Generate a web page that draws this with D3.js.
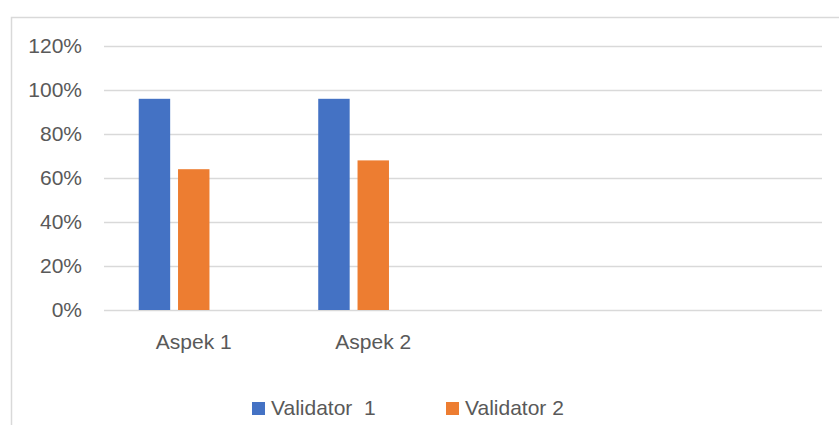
<!DOCTYPE html>
<html>
<head>
<meta charset="utf-8">
<script src="https://cdn.jsdelivr.net/npm/d3@7"></script>
<style>
  html, body { margin: 0; padding: 0; background: #fff; }
  svg { display: block; }
  text { font-family: "Liberation Sans", Arial, sans-serif; fill: #595959; }
</style>
</head>
<body>
<svg id="chart" width="839" height="425"></svg>
<script>
// ---- data ----
const categories = ["Aspek 1", "Aspek 2", "", ""];
const seriesNames = ["Validator  1", "Validator 2"];
const validator1 = [0.96, 0.96, null, null];
const validator2 = [0.64, 0.68, null, null];
const seriesSlots = ["s1", "s2", "s3"]; // third slot is an empty series in the original
const yTicks = [0, 0.2, 0.4, 0.6, 0.8, 1.0, 1.2];
const colors = ["#4472C4", "#ED7D31"];

const FS = 21;
const svg = d3.select("#chart");

// chart border
svg.append("rect")
  .attr("x", 11.5).attr("y", 17.5)
  .attr("width", 900).attr("height", 500)
  .attr("fill", "none").attr("stroke", "#d9d9d9").attr("stroke-width", 1.5);

const plot = { left: 104, right: 822, top: 46, bottom: 310 };

const x0 = d3.scaleBand()
  .domain(d3.range(categories.length))
  .range([plot.left, plot.right])
  .paddingInner(0.387).paddingOuter(0.387 / 2);

const x1 = d3.scaleBand()
  .domain(seriesSlots)
  .range([0, x0.bandwidth()])
  .paddingInner(0.2).paddingOuter(0);

const y = d3.scaleLinear().domain([0, 1.2]).range([plot.bottom, plot.top]);

// gridlines + y labels
const yAxis = d3.axisLeft(y)
  .tickValues(yTicks)
  .tickSize(-(plot.right - plot.left))
  .tickPadding(22)
  .tickFormat(d3.format(".0%"));

const gy = svg.append("g")
  .attr("transform", `translate(${plot.left},0)`)
  .call(yAxis);
gy.select(".domain").remove();
gy.selectAll(".tick line").attr("stroke", "#d9d9d9").attr("stroke-width", 1.5);
gy.selectAll(".tick text")
  .attr("font-size", FS)
  .attr("fill", "#595959")
  .attr("font-family", "Liberation Sans, Arial, sans-serif");

// bars
const seriesData = [validator1, validator2];
seriesData.forEach((vals, si) => {
  svg.append("g").selectAll("rect")
    .data(vals.map((v, i) => ({ v, i })).filter(d => d.v != null))
    .join("rect")
    .attr("x", d => x0(d.i) + x1(seriesSlots[si]))
    .attr("width", x1.bandwidth())
    .attr("y", d => y(d.v))
    .attr("height", d => y(0) - y(d.v))
    .attr("fill", colors[si]);
});

// category axis labels
const xAxis = d3.axisBottom(x0)
  .tickSize(0)
  .tickPadding(0)
  .tickFormat(i => categories[i]);
const gx = svg.append("g")
  .attr("transform", `translate(0,${plot.bottom})`)
  .call(xAxis);
gx.select(".domain").remove();
gx.selectAll(".tick text")
  .attr("font-size", FS)
  .attr("fill", "#595959")
  .attr("font-family", "Liberation Sans, Arial, sans-serif")
  .attr("dy", null)
  .attr("y", 39);

// legend
const legendX = [252, 446];
const legend = svg.append("g");
seriesNames.forEach((name, i) => {
  legend.append("rect")
    .attr("x", legendX[i]).attr("y", 402)
    .attr("width", 13).attr("height", 13)
    .attr("fill", colors[i]);
  legend.append("text")
    .attr("x", legendX[i] + 19).attr("y", 415)
    .attr("font-size", FS)
    .attr("xml:space", "preserve")
    .style("white-space", "pre")
    .text(name);
});
</script>
</body>
</html>
